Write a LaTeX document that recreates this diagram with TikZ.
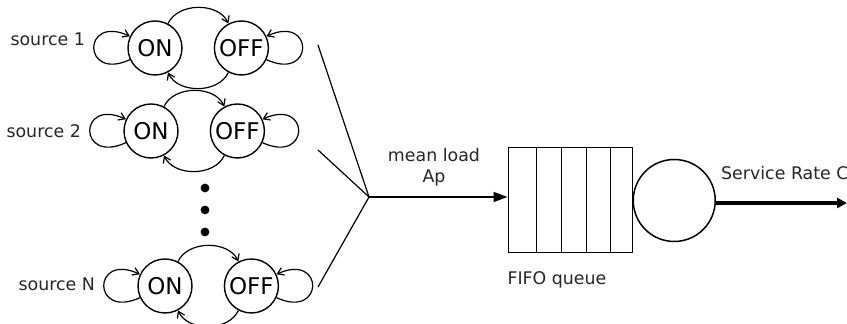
\documentclass[tikz,border=0pt]{standalone}
\usepackage{fontspec}
\setmainfont{DejaVu Sans}
\usetikzlibrary{arrows.meta, positioning}

\begin{document}
\begin{tikzpicture}[
    x=0.5pt, y=0.5pt,
    state/.style = {circle, draw, line width=0.7pt, fill=white,
                    minimum size=27pt, inner sep=0pt,
                    font=\fontsize{11.5}{12}\selectfont},
    txt/.style   = {inner sep=0pt, text=black!85,
                    font=\fontsize{8.7}{10.5}\selectfont},
    arc/.style   = {-{Straight Barb[length=3pt, width=4pt]}, line width=0.6pt},
    feed/.style  = {line width=0.6pt},
]
\useasboundingbox (0,0) rectangle (847,324);

% ON/OFF sources
\foreach \x/\y/\n/\dy in {155/276/1/9, 151/193/2/0, 165/38/N/2} {
  \node[state] (on\n) at (\x,\y) {ON};
  \node[state, right=15.5pt of on\n] (off\n) {OFF};
  \draw[arc] (on\n.62) to[out=65, in=115] (off\n.118);
  \draw[arc] (off\n.242) to[out=-115, in=-65] (on\n.298);
  \draw[arc] (on\n.205) .. controls +(-48,-22) and +(-48,22) .. (on\n.155);
  \draw[arc] (off\n.-25) .. controls +(48,-22) and +(48,22) .. (off\n.25);
  \node[txt, left=21pt of on\n, yshift=\dy*0.5pt] (src\n) {source \n};
}

% dots between source 2 and source N
\foreach \d in {136,114,92}
  \fill (205,\d) circle (2.2pt);

% merging lines
\coordinate (join) at (369,127);
\coordinate (in1) at (318,279);
\coordinate (in2) at (318,174);
\coordinate (inN) at (318,37);
\foreach \n in {1,2,N}
  \draw[feed] (in\n) -- (join);

% FIFO queue
\node[draw, line width=0.5pt, minimum width=62pt, minimum height=52.5pt,
      inner sep=0pt] (queue) at (570,123.5) {};
\foreach \c in {536,561,586,610}
  \draw[line width=0.5pt] (\c,0 |- queue.north) -- (\c,0 |- queue.south);
\draw[-{Triangle[length=7pt, width=5pt]}, line width=0.8pt]
  (join) -- (join -| queue.west);
\node[txt, align=center] (load) at (434,157) {mean load\\Ap};
\node[txt] (fifo) at (557,44) {FIFO queue};

% server
\node[circle, draw, line width=0.75pt, minimum size=41pt, inner sep=0pt,
      right=0pt of queue] (server) {};
\coordinate (out) at (847,121);
\draw[-{Triangle[length=5pt, width=5pt]}, line width=2pt]
  (server.east |- out) -- (out);
\node[txt, anchor=east] (rate) at (849,151) {Service Rate C};

\end{tikzpicture}
\end{document}
